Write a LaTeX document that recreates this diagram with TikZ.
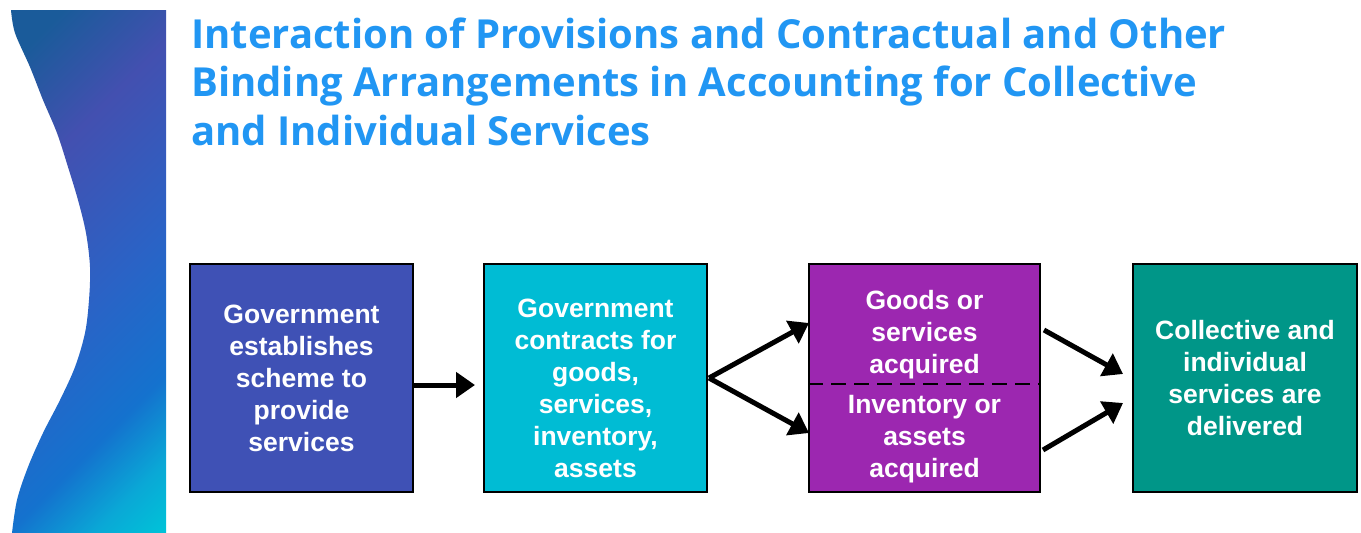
\documentclass[tikz,border=0pt]{standalone}
\usepackage{fontspec}
\setmainfont{Liberation Sans}
\newfontfamily\headfont{Open Sans}
\usetikzlibrary{arrows.meta,calc}

\definecolor{headblue}{HTML}{2196F3}
\definecolor{schemefill}{HTML}{3F51B5}
\definecolor{contractfill}{HTML}{00BCD4}
\definecolor{acquirefill}{HTML}{9C27B0}
\definecolor{deliverfill}{HTML}{009688}
\definecolor{sbA}{HTML}{1A5B9A}
\definecolor{sbB}{HTML}{4350B0}
\definecolor{sbC}{HTML}{2A63C6}
\definecolor{sbD}{HTML}{1472CE}
\definecolor{sbF}{HTML}{0AA8D6}
\definecolor{sbE}{HTML}{00C2D8}

% diagonal colour ramp for the side ribbon
\pgfdeclareverticalshading{sidebar}{100bp}{%
  color(0bp)=(sbE); color(15bp)=(sbE); color(22bp)=(sbF); color(31bp)=(sbD);
  color(46bp)=(sbC); color(66bp)=(sbB); color(80bp)=(sbA); color(100bp)=(sbA)}

\tikzset{
  stagebox/.style={draw=black, line width=2pt, minimum height=228pt, inner sep=0pt},
  stagetext/.style={text=white, align=center, inner sep=0pt,
    font=\fontsize{26.5}{32}\selectfont\bfseries},
  flow/.style={line width=5pt, -{Triangle[length=19pt,width=25pt]}},
}

\begin{document}
\begin{tikzpicture}[x=1pt, y=-1pt]
  \useasboundingbox (0,0) rectangle (1361,533);

  % side ribbon with a wavy left edge
  \shade[shading=sidebar, shading angle=45]
    (166,10) -- (166,533) -- plot[smooth, tension=0.55] coordinates
      {(12,533) (17,500) (28,467) (43,433) (60,400) (75,367) (85,333) (89,300)
       (90,267) (86,233) (78,200) (68,167) (57,133) (43,100) (30,67) (15,33) (11,10)}
    -- cycle;

  % heading (anchored on the baseline of its last line)
  \node[anchor=base west, inner sep=0pt, align=left, text=headblue,
        font=\headfont\bfseries\fontsize{40}{48.5}\selectfont] (title) at (191,145)
    {Interaction of Provisions and Contractual and Other\\
     Binding Arrangements in Accounting for Collective\\
     and Individual Services};

  % stages
  \node[stagebox, fill=schemefill,   minimum width=223pt] (b1) at (301.5,378) {};
  \node[stagebox, fill=contractfill, minimum width=223pt] (b2) at (595.5,378) {};
  \node[stagebox, fill=acquirefill,  minimum width=231pt] (b3) at (924.5,378) {};
  \node[stagebox, fill=deliverfill,  minimum width=224pt] (b4) at (1245,378) {};

  \node[stagetext] (t1) at (b1.center)
    {Government\\establishes\\scheme to\\provide\\services};
  \node[stagetext] (t2) at ($(b2.center)+(0,10)$)
    {Government\\contracts for\\goods,\\services,\\inventory,\\assets};
  \node[stagetext] (t3a) at ($(b3.center)+(0,-43)$)
    {Goods or\\services\\acquired};
  \node[stagetext] (t3b) at ($(b3.center)+(0,61)$)
    {Inventory or\\assets\\acquired};
  \node[stagetext] (t4) at (b4.center)
    {Collective and\\individual\\services are\\delivered};

  % split inside the acquisition box
  \draw[line width=2.6pt, dash pattern=on 15pt off 8pt]
    ([yshift=-6pt]b3.west) -- ([yshift=-6pt]b3.east);

  % connectors
  \draw[flow] ([yshift=-7pt]b1.east) -- ([shift={(-8pt,-7pt)}]b2.west);
  \draw[flow] ([xshift=1pt]b2.east) -- ([shift={(1pt,55pt)}]b3.west);
  \draw[flow] ([xshift=1pt]b2.east) -- ([shift={(1pt,-55pt)}]b3.west);
  \draw[flow] ([shift={(3pt,48pt)}]b3.east) -- ([shift={(-9pt,4pt)}]b4.west);
  \draw[flow] ([shift={(2pt,-72pt)}]b3.east) -- ([shift={(-9pt,-25pt)}]b4.west);
\end{tikzpicture}
\end{document}
